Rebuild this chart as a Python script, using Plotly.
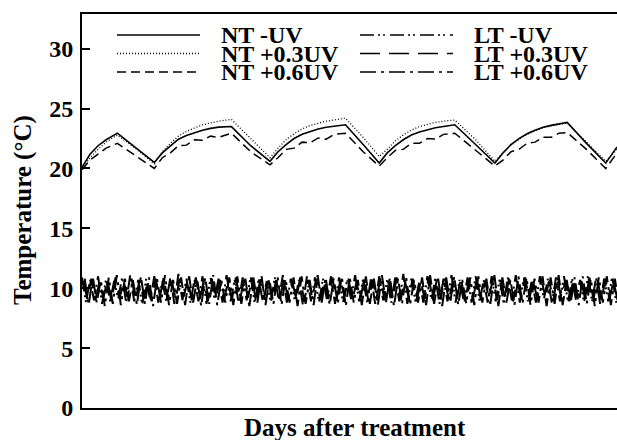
import plotly.graph_objects as go

# ---------------- data ----------------
SERIES_NT = ["NT -UV", "NT +0.3UV", "NT +0.6UV"]
SERIES_LT = ["LT -UV", "LT +0.3UV", "LT +0.6UV"]

NT_DAYS = [0, 0.5, 1.0, 1.5, 2.2, 3.4, 4.5,
           5.0, 5.5, 6.0, 6.5, 7.0, 7.5, 8.0, 8.5, 9.3, 10.5, 11.7,
           12.2, 12.7, 13.2, 13.7, 14.2, 14.7, 15.2, 15.7, 16.4, 17.5, 18.5,
           19.0, 19.5, 20.0, 20.5, 21.0, 21.5, 22.0, 22.5, 23.2, 24.5, 25.7,
           26.2, 26.7, 27.2, 27.7, 28.2, 28.7, 29.2, 29.7, 30.2, 31.4, 32.6, 33.3]

NT_MINUS_UV = [20.1, 21.2, 21.9, 22.4, 22.95, 21.7, 20.5,
               21.3, 21.9, 22.45, 22.75, 23.0, 23.2, 23.35, 23.45, 23.5, 21.9, 20.6,
               21.4, 22.0, 22.5, 22.85, 23.1, 23.3, 23.45, 23.55, 23.65, 22.0, 20.45,
               21.3, 21.9, 22.4, 22.8, 23.05, 23.25, 23.4, 23.5, 23.65, 22.0, 20.45,
               21.3, 22.0, 22.5, 22.9, 23.2, 23.45, 23.6, 23.75, 23.85, 22.1, 20.45, 21.8]

NT_03_UV = [20.0, 20.9, 21.6, 22.2, 22.8, 21.6, 20.4,
            21.4, 22.1, 22.7, 23.1, 23.4, 23.65, 23.8, 23.95, 24.1, 22.5, 20.9,
            21.7, 22.4, 22.9, 23.3, 23.6, 23.8, 23.95, 24.05, 24.2, 22.6, 21.0,
            21.6, 22.3, 22.8, 23.2, 23.5, 23.7, 23.85, 23.95, 24.05, 22.4, 20.6,
            21.3, 21.95, 22.45, 22.85, 23.15, 23.4, 23.55, 23.7, 23.8, 22.2, 20.6, 21.6]

NT_06_UV = [19.9, 20.7, 21.2, 21.7, 22.1, 21.0, 20.0,
            20.9, 21.3, 21.9, 21.95, 22.4, 22.35, 22.7, 22.6, 22.95, 21.4, 20.3,
            20.9, 21.6, 21.7, 22.2, 22.15, 22.55, 22.45, 22.85, 22.95, 21.4, 20.2,
            20.9, 21.5, 21.6, 22.1, 22.1, 22.5, 22.45, 22.85, 22.95, 21.5, 20.2,
            20.7, 21.4, 21.6, 22.1, 22.2, 22.6, 22.6, 22.95, 23.0, 21.6, 20.0, 21.3]

LT_STEP_DAYS = 0.25
LT_OFFSETS = [0.0, 0.083, 0.167]

LT_MINUS_UV = [
    10.9, 8.8, 10.7, 9.0, 11.0, 8.7, 10.8, 8.9, 10.6, 9.1,
    10.9, 8.8, 11.1, 8.9, 10.7, 8.6, 10.8, 9.0, 11.0, 8.8,
    10.6, 8.9, 10.9, 8.7, 11.2, 9.0, 10.8, 8.8, 10.7, 8.9,
    11.0, 8.7, 10.9, 9.1, 10.8, 8.8, 11.1, 8.9, 10.7, 8.8,
    10.9, 9.0, 11.0, 8.7, 10.8, 8.9, 10.6, 8.8, 10.9, 9.0,
    11.1, 8.8, 10.8, 8.9, 10.7, 8.6, 11.0, 8.9, 10.9, 8.8,
    10.8, 9.0, 11.0, 8.7, 10.9, 8.8, 10.7, 9.1, 11.1, 8.9,
    10.8, 8.8, 10.9, 8.7, 11.0, 9.0, 10.7, 8.8, 10.9, 8.9,
    11.2, 8.7, 10.8, 8.9, 10.6, 8.8, 11.0, 9.0, 10.9, 8.7,
    10.8, 8.9, 11.1, 8.8, 10.7, 9.0, 10.9, 8.8, 11.0, 8.9,
    10.7, 8.8, 11.0, 8.9, 10.8, 8.7, 10.9, 9.0, 11.1, 8.8,
    10.9, 8.9, 10.7, 8.8, 11.0, 9.1, 10.8, 8.7, 10.9, 8.9,
    11.0, 8.8, 10.8, 9.0, 10.7, 8.8, 11.1, 8.9, 10.9, 8.7,
    10.8, 8.9, 11.0, 8.8, 10.9]

LT_03_UV = [
    10.6, 9.1, 10.8, 9.0, 10.5, 9.2, 10.7, 8.9, 10.9, 9.1,
    10.6, 9.3, 10.8, 9.0, 10.7, 9.1, 10.5, 8.9, 10.8, 9.2,
    10.9, 9.0, 10.6, 9.1, 10.8, 9.3, 10.7, 9.0, 10.9, 9.1,
    10.6, 8.9, 10.8, 9.2, 10.7, 9.0, 10.5, 9.1, 10.9, 9.0,
    10.7, 9.2, 10.8, 8.9, 10.6, 9.1, 10.9, 9.0, 10.7, 9.2,
    10.8, 9.0, 10.6, 9.1, 10.9, 8.9, 10.7, 9.2, 10.8, 9.0,
    10.6, 9.1, 10.9, 9.0, 10.7, 9.3, 10.8, 9.0, 10.5, 9.1,
    10.9, 8.9, 10.7, 9.2, 10.8, 9.0, 10.6, 9.1, 10.9, 9.0,
    10.7, 9.2, 10.8, 8.9, 10.6, 9.1, 10.9, 9.0, 10.7, 9.2,
    10.8, 9.0, 10.6, 9.1, 10.9, 8.9, 10.7, 9.1, 10.8, 9.0,
    10.6, 9.2, 10.9, 9.0, 10.7, 9.1, 10.8, 8.9, 10.6, 9.2,
    10.9, 9.0, 10.7, 9.1, 10.8, 9.3, 10.6, 9.0, 10.9, 9.1,
    10.7, 8.9, 10.8, 9.2, 10.6, 9.0, 10.9, 9.1, 10.7, 9.0,
    10.8, 9.1, 10.6, 9.0, 10.9]

LT_06_UV = [
    10.8, 8.6, 11.0, 8.8, 10.7, 8.5, 10.9, 8.7, 11.1, 8.6,
    10.8, 8.9, 10.7, 8.6, 11.0, 8.7, 10.9, 8.5, 10.8, 8.8,
    11.1, 8.6, 10.7, 8.7, 10.9, 8.6, 11.0, 8.8, 10.8, 8.5,
    10.9, 8.7, 11.1, 8.6, 10.7, 8.8, 10.9, 8.6, 11.0, 8.7,
    10.8, 8.5, 10.9, 8.8, 11.1, 8.6, 10.7, 8.7, 11.0, 8.6,
    10.8, 8.8, 10.9, 8.5, 11.0, 8.7, 10.7, 8.6, 11.1, 8.8,
    10.9, 8.6, 10.8, 8.7, 11.0, 8.5, 10.9, 8.8, 10.7, 8.6,
    11.0, 8.7, 10.8, 8.6, 11.1, 8.8, 10.9, 8.5, 10.8, 8.7,
    11.0, 8.6, 10.7, 8.8, 10.9, 8.6, 11.1, 8.7, 10.8, 8.5,
    10.9, 8.8, 11.0, 8.6, 10.7, 8.7, 10.9, 8.6, 11.0, 8.8,
    10.8, 8.7, 11.1, 8.5, 10.9, 8.8, 10.7, 8.6, 11.0, 8.7,
    10.9, 8.6, 10.8, 8.8, 11.0, 8.5, 10.9, 8.7, 11.1, 8.6,
    10.7, 8.8, 10.9, 8.6, 11.0, 8.7, 10.8, 8.5, 10.9, 8.8,
    11.0, 8.6, 10.8, 8.7, 10.9]

Y_TICKS = [0, 5, 10, 15, 20, 25, 30]
X_TITLE = "Days after treatment"
Y_TITLE = "Temperature (°C)"

# ---------------- styles ----------------
FONT = "Liberation Serif, Times New Roman, serif"
NT_STYLES = [dict(dash="solid", width=1.6),
             dict(dash="1px,2px", width=1.3),
             dict(dash="9px,5px", width=1.5)]
LT_STYLES = [dict(dash="14px,4px,2px,3px,2px,5px", width=2.0),
             dict(dash="20px,9px", width=2.0),
             dict(dash="16px,5px,3px,5px", width=2.0)]
LEGEND_WIDTHS = [1.6, 1.3, 1.5]

W, H = 617, 440
ML, MR, MT, MB = 82, 0, 14, 32
PW, PH = W - ML - MR, H - MT - MB

fig = go.Figure()

for vals, off, name, st in zip([LT_MINUS_UV, LT_03_UV, LT_06_UV], LT_OFFSETS, SERIES_LT, LT_STYLES):
    xs = [off + i * LT_STEP_DAYS for i in range(len(vals))]
    fig.add_trace(go.Scatter(x=xs, y=vals, mode="lines", name=name,
                             line=dict(color="black", **st), showlegend=False))

for vals, name, st in zip([NT_MINUS_UV, NT_03_UV, NT_06_UV], SERIES_NT, NT_STYLES):
    fig.add_trace(go.Scatter(x=NT_DAYS, y=vals, mode="lines", name=name,
                             line=dict(color="black", **st), showlegend=False))

# manual legend (two columns, three rows)
def px_x(p):
    return (p - ML) / PW

def px_y(p):
    return (H - MB - p) / PH

rows_y = [35, 53.5, 72]
cols = [(117, 200, 219, SERIES_NT, NT_STYLES), (360, 453, 472, SERIES_LT, LT_STYLES)]
shapes = []
annotations = []
for x0, x1, xt, names, styles in cols:
    for ry, nm, st, lw in zip(rows_y, names, styles, LEGEND_WIDTHS):
        shapes.append(dict(type="line", xref="paper", yref="paper",
                           x0=px_x(x0), x1=px_x(x1), y0=px_y(ry), y1=px_y(ry),
                           line=dict(color="black", dash=st["dash"], width=lw)))
        annotations.append(dict(text=nm, xref="paper", yref="paper",
                                x=px_x(xt), y=px_y(ry), xanchor="left", yanchor="middle",
                                showarrow=False,
                                font=dict(family=FONT, size=24, color="black", weight="bold")))

annotations.append(dict(text=X_TITLE, xref="paper", yref="paper",
                        x=px_x(355), y=px_y(427), xanchor="center", yanchor="middle",
                        showarrow=False,
                        font=dict(family=FONT, size=25, color="black", weight="bold")))
annotations.append(dict(text=Y_TITLE, xref="paper", yref="paper",
                        x=px_x(23), y=px_y(210), xanchor="center", yanchor="middle",
                        textangle=-90, showarrow=False,
                        font=dict(family=FONT, size=25, color="black", weight="bold")))

fig.update_layout(
    width=W, height=H,
    margin=dict(l=ML, r=MR, t=MT, b=MB, pad=0),
    paper_bgcolor="white", plot_bgcolor="white",
    showlegend=False,
    shapes=shapes, annotations=annotations,
    xaxis=dict(range=[0, 33.3], showticklabels=False, ticks="", showgrid=False,
               zeroline=False, showline=True, linecolor="black", linewidth=2, mirror=True),
    yaxis=dict(range=[0, 32.9], tickvals=Y_TICKS, ticks="inside", ticklen=8, tickwidth=2,
               tickcolor="black", showgrid=False, zeroline=False, showline=True,
               linecolor="black", linewidth=2, mirror=False, ticklabelstandoff=2,
               tickfont=dict(family=FONT, size=24, color="black", weight="bold")),
)

fig.write_html("out.html", config={"displayModeBar": False},
               post_script="document.body.style.margin='0px';document.body.style.overflow='hidden';")
